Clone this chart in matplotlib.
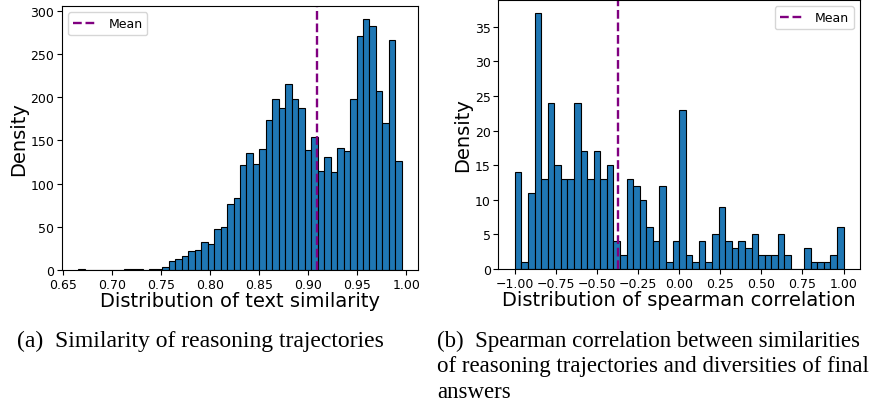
import numpy as np
import matplotlib.pyplot as plt

# (a) text similarity histogram: 50 bins, counts
sim_lo, sim_hi = 0.6658, 0.9956
sim_counts = [1, 0, 0, 0, 0, 0, 0, 1, 1, 1,
              0, 1, 1, 4, 10, 13, 16, 21.5, 23, 32,
              30, 48, 50, 76, 83, 122, 135, 123, 140, 174,
              198, 188, 215, 198, 188, 139, 154, 115, 131, 113,
              141, 138, 198, 271, 291, 282, 207, 170, 266, 126]
sim_mean = 0.9095

# (b) spearman correlation histogram: 50 bins on [-1, 1]
rho_lo, rho_hi = -1.0, 1.0
rho_counts = [14, 1, 11, 37, 13, 24, 15, 13, 13, 24,
              17, 13, 17, 13, 15, 4, 2, 13, 12, 10,
              6, 4, 12, 1, 4, 23, 2, 1, 4, 1,
              5, 9, 4, 3, 4, 3, 5, 2, 2, 2,
              5, 2, 0, 0, 3, 1, 1, 1, 2, 6]
rho_mean = -0.374

fig = plt.figure(figsize=(8.76, 4.10), dpi=100)
ax1 = fig.add_axes([0.0708, 0.339, 0.4064, 0.644])
ax2 = fig.add_axes([0.569, 0.3415, 0.4127, 0.656])


def draw_hist(ax, lo, hi, counts, mean, xlabel, loc):
    edges = np.linspace(lo, hi, len(counts) + 1)
    ax.hist(edges[:-1], bins=edges, weights=counts, color='#1f77b4',
            edgecolor='black', linewidth=0.8)
    ax.axvline(mean, color='purple', linestyle='--', linewidth=1.7, label='Mean')
    ax.set_xlabel(xlabel, fontsize=14, labelpad=0)
    ax.set_ylabel('Density', fontsize=14, labelpad=2)
    ax.tick_params(labelsize=9, pad=2)
    ax.legend(loc=loc, fontsize=9)


draw_hist(ax1, sim_lo, sim_hi, sim_counts, sim_mean,
          'Distribution of text similarity', 'upper left')
draw_hist(ax2, rho_lo, rho_hi, rho_counts, rho_mean,
          'Distribution of spearman correlation', 'upper right')
ax1.set_xticks([0.65, 0.70, 0.75, 0.80, 0.85, 0.90, 0.95, 1.00])
ax2.set_xticks([-1.0, -0.75, -0.5, -0.25, 0.0, 0.25, 0.5, 0.75, 1.0])

cap = dict(family='Liberation Serif', va='center', ha='left')
fig.text(17 / 876, 1 - 341 / 410, '(a)  Similarity of reasoning trajectories',
         fontsize=17, **cap)
fig.text(437 / 876, 1 - 341 / 410, '(b)  Spearman correlation between similarities',
         fontsize=16.5, **cap)
fig.text(437 / 876, 1 - 367 / 410, 'of reasoning trajectories and diversities of final',
         fontsize=16.5, **cap)
fig.text(437 / 876, 1 - 393 / 410, 'answers', fontsize=16.5, **cap)

fig.savefig('out.png', dpi=100)
